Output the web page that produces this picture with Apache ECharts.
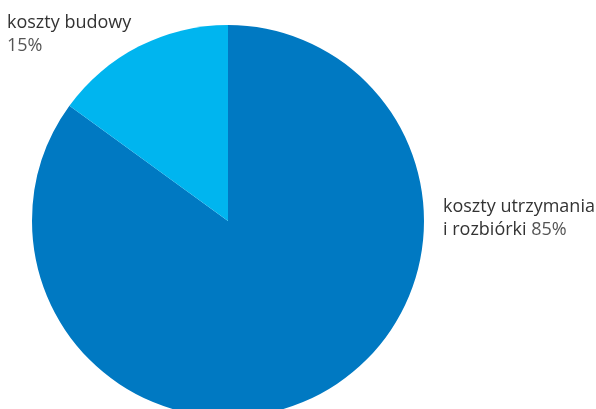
<!DOCTYPE html>
<html>
<head>
<meta charset="utf-8">
<script src="https://cdn.jsdelivr.net/npm/echarts@6/dist/echarts.min.js"></script>
<style>
  html, body { margin: 0; padding: 0; background: #fff; }
  #chart { width: 596px; height: 409px; }
</style>
</head>
<body>
<div id="chart"></div>
<script>
// dane wykresu
const categories = ['koszty utrzymania\ni rozbiórki', 'koszty budowy'];
const values = [85, 15];
const colors = ['#0079c2', '#00b5ef'];

const chart = echarts.init(document.getElementById('chart'));

// pozycje etykiet (lewy górny róg tekstu)
const labelPos = [
    { x: 443, y: 195 },
    { x: 7, y: 11 }
];

const option = {
    animation: false,
    series: [{
        type: 'pie',
        center: [228, 221],
        radius: 196,
        startAngle: 90,
        clockwise: true,
        data: categories.map((name, i) => ({
            name: name,
            value: values[i],
            itemStyle: { color: colors[i] }
        })),
        label: {
            show: true,
            overflow: 'none',
            fontFamily: 'Open Sans',
            fontSize: 18,
            lineHeight: 23,
            color: '#333333',
            formatter: p => {
                if (p.dataIndex === 0) return 'koszty utrzymania\ni rozbiórki {p|' + p.value + '%}';
                return 'koszty budowy\n{p|' + p.value + '%}';
            },
            rich: {
                p: { fontFamily: 'Open Sans', fontSize: 18, lineHeight: 23, color: '#555555' }
            }
        },
        labelLine: { show: false },
        labelLayout: params => ({
            x: labelPos[params.dataIndex].x,
            y: labelPos[params.dataIndex].y,
            align: 'left',
            verticalAlign: 'top'
        }),
        emphasis: { disabled: true }
    }]
};

chart.setOption(option);
</script>
</body>
</html>
